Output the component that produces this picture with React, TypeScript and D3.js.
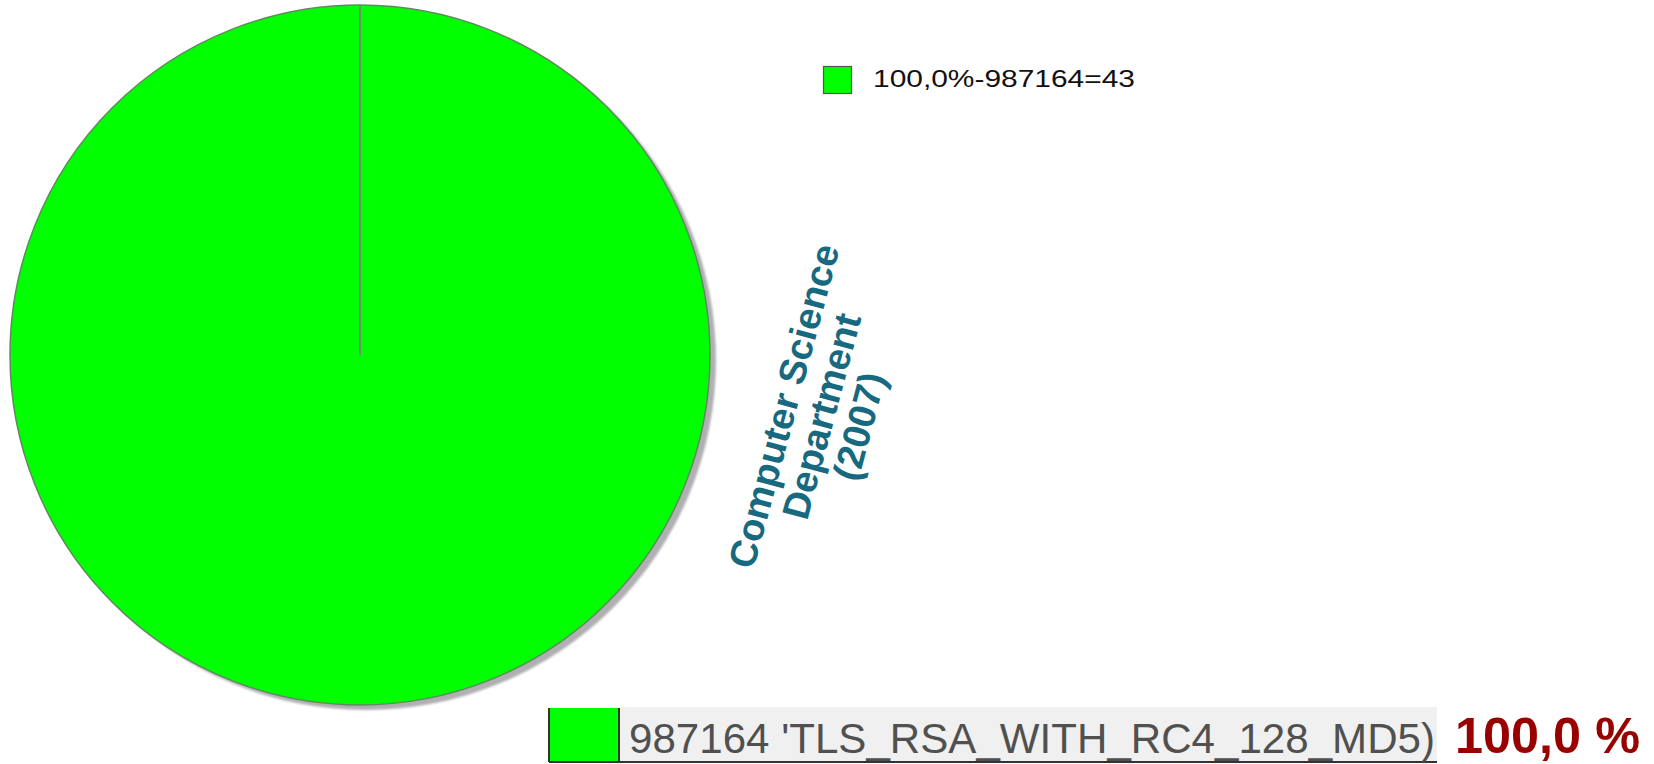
import React from "react";
import * as d3 from "d3";

const categories = ["987164 'TLS_RSA_WITH_RC4_128_MD5)"];
const values = [43];
const legendLabels = ["100,0%-987164=43"];
const percentLabels = ["100,0 %"];
const titleLines = ["Computer Science", "Department", "(2007)"];
const colors = ["#00ff00"];

const W = 1654;
const H = 764;

export default function App() {
  const cx = 360;
  const cy = 355;
  const r = 350;
  const pie = d3.pie<number>().sort(null).value((d) => d);
  const arcs = pie(values);
  const arc = d3.arc<d3.PieArcDatum<number>>().innerRadius(0).outerRadius(r);
  const color = d3.scaleOrdinal<string, string>().domain(categories).range(colors);

  return (
    <svg
      width={W}
      height={H}
      style={{ position: "absolute", left: 0, top: 0, background: "#fff" }}
      fontFamily="'Liberation Sans', Arial, sans-serif"
    >
      <defs>
        <filter id="blur" x="-5%" y="-5%" width="110%" height="110%">
          <feGaussianBlur stdDeviation="1.2" />
        </filter>
      </defs>
      {/* shadow */}
      <circle cx={cx + 6} cy={cy + 5} r={r} fill="#b0b0b4" filter="url(#blur)" />
      <g transform={`translate(${cx},${cy})`}>
        {arcs.map((a, i) => (
          <path key={i} d={arc(a) || ""} fill={color(categories[i])} stroke="#5e8a5e" strokeWidth={1.5} />
        ))}
        {arcs.map((a, i) => {
          const ang = a.startAngle;
          return (
            <line
              key={"l" + i}
              x1={0}
              y1={0}
              x2={Math.sin(ang) * r}
              y2={-Math.cos(ang) * r}
              stroke="#6f8f6f"
              strokeWidth={2}
            />
          );
        })}
      </g>

      {/* top legend */}
      {legendLabels.map((t, i) => (
        <g key={i} transform={`translate(823,${66 + i * 34})`}>
          <rect x={0.5} y={0.5} width={28} height={27} fill={colors[i]} stroke="#555" strokeWidth={1.2} />
          <text x={50} y={21} fontSize={23} fill="#111" textLength={262} lengthAdjust="spacingAndGlyphs">
            {t}
          </text>
        </g>
      ))}

      {/* rotated title */}
      <g transform="translate(821,416) rotate(-75)">
        {titleLines.map((t, i) => (
          <text
            key={i}
            x={0}
            y={(i - 1) * 39}
            dy="0.36em"
            textAnchor="middle"
            fontSize={38}
            fontWeight="bold"
            fill="#17697f"
          >
            {t}
          </text>
        ))}
      </g>

      {/* bottom legend */}
      {categories.map((c, i) => (
        <g key={c}>
          <rect x={620} y={707} width={817} height={55} fill="#f0f0f0" />
          <rect x={549} y={708} width={71} height={54} fill={colors[i]} />
          <line x1={549} y1={708} x2={549} y2={762} stroke="#333" strokeWidth={2} />
          <line x1={619} y1={708} x2={619} y2={762} stroke="#333" strokeWidth={2} />
          <line x1={549} y1={762} x2={1437} y2={762} stroke="#333" strokeWidth={2} />
          <text x={629} y={753} fontSize={42} fill="#505050" textLength={806} lengthAdjust="spacingAndGlyphs">
            {c}
          </text>
          <text
            x={1455}
            y={753}
            fontSize={50}
            fontWeight="bold"
            fill="#990000"
            textLength={185}
            lengthAdjust="spacingAndGlyphs"
          >
            {percentLabels[i]}
          </text>
        </g>
      ))}
    </svg>
  );
}
